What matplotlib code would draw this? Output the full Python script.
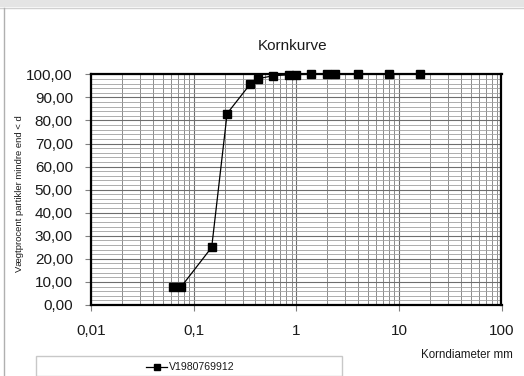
import matplotlib
matplotlib.use("Agg")
import matplotlib.pyplot as plt
from matplotlib.ticker import FixedLocator, MultipleLocator, FuncFormatter, LogLocator, NullFormatter
from matplotlib.patches import Rectangle
from matplotlib.lines import Line2D

plt.rcParams['font.family'] = ['Liberation Sans', 'DejaVu Sans']

# Sieve analysis: grain diameter (mm) and cumulative passing (%)
diameter_mm = [0.063, 0.075, 0.15, 0.212, 0.355, 0.425, 0.6, 0.85, 1.0, 1.4, 2.0, 2.36, 4.0, 8.0, 16.0]
passing_pct = [7.7, 7.7, 25.0, 83.0, 95.7, 98.1, 99.4, 99.8, 99.9, 100.0, 100.0, 100.0, 100.0, 100.0, 100.0]
series_name = "V1980769912"
x_ticks = [0.01, 0.1, 1, 10, 100]
x_tick_labels = ["0,01", "0,1", "1", "10", "100"]
title = "Kornkurve"
x_label = "Korndiameter mm"
y_label = "Vægtprocent partikler mindre end < d"

W, H = 524, 376
fig = plt.figure(figsize=(W / 100, H / 100), dpi=100)
fig.patch.set_facecolor("white")

# chart frame: grey strip on top and thin left border
fig.patches.append(Rectangle((0, 1 - 7 / H), 1, 7 / H, transform=fig.transFigure,
                             facecolor="#e4e4e4", edgecolor="none"))
fig.lines.append(Line2D([0, 1], [1 - 8 / H, 1 - 8 / H], transform=fig.transFigure,
                        color="#d0d0d0", lw=1))
fig.lines.append(Line2D([3.5 / W, 3.5 / W], [0, 1 - 8 / H], transform=fig.transFigure,
                        color="#b0b0b0", lw=1))

left, right, top, bottom = 91, 501.5, 74.3, 305
ax = fig.add_axes([left / W, 1 - bottom / H, (right - left) / W, (bottom - top) / H])

ax.set_xscale("log")
ax.set_xlim(0.01, 100)
ax.set_ylim(0, 100)

ax.xaxis.set_major_locator(FixedLocator(x_ticks))
ax.xaxis.set_major_formatter(FuncFormatter(lambda v, p: x_tick_labels[x_ticks.index(v)] if v in x_ticks else ""))
ax.xaxis.set_minor_locator(LogLocator(base=10, subs=range(2, 10), numticks=20))
ax.xaxis.set_minor_formatter(NullFormatter())

ax.yaxis.set_major_locator(MultipleLocator(10))
ax.yaxis.set_minor_locator(MultipleLocator(2))
ax.yaxis.set_major_formatter(FuncFormatter(lambda v, p: f"{v:.2f}".replace(".", ",")))

ax.grid(which="major", axis="both", color="#6e6e6e", lw=0.8)
ax.grid(which="minor", axis="x", color="#8c8c8c", lw=0.7)
ax.grid(which="minor", axis="y", color="#a0a0a0", lw=0.6)
ax.set_axisbelow(True)

ax.tick_params(axis="both", which="major", labelsize=11, length=4, width=0.8, color="#808080")
ax.tick_params(axis="y", which="major", pad=9)
ax.tick_params(axis="x", which="major", pad=10, length=4)
ax.tick_params(axis="both", which="minor", length=0)
for lab in ax.get_xticklabels() + ax.get_yticklabels():
    lab.set_color("#1a1a1a")

for s in ax.spines.values():
    s.set_linewidth(1.6)
    s.set_color("black")

ax.plot(diameter_mm, passing_pct, color="black", lw=0.9, marker="s", markersize=5.2,
        markerfacecolor="black", markeredgecolor="black", clip_on=False, zorder=5)

fig.text(293 / W, 1 - 46 / H, title, ha="center", va="center", fontsize=11, color="#1a1a1a")
fig.text(513 / W, 1 - 355 / H, x_label, ha="right", va="center", fontsize=8.3, color="#1a1a1a")
fig.text(20 / W, 1 - 194 / H, y_label, ha="center", va="center", rotation=90, fontsize=6.8,
         color="#1a1a1a")

# legend box
lx0, lx1, ly0 = 36, 342, 355.5
fig.patches.append(Rectangle((lx0 / W, 0), (lx1 - lx0) / W, 1 - ly0 / H, transform=fig.transFigure,
                             facecolor="white", edgecolor="#c8c8c8", lw=1))
fig.lines.append(Line2D([146 / W, 167 / W], [1 - 367 / H, 1 - 367 / H], transform=fig.transFigure,
                        color="black", lw=0.9, marker=None))
fig.lines.append(Line2D([156.5 / W], [1 - 367 / H], transform=fig.transFigure,
                        color="black", marker="s", markersize=5, lw=0))
fig.text(169 / W, 1 - 367 / H, series_name, ha="left", va="center", fontsize=7.6, color="#1a1a1a")

fig.savefig("out.png", dpi=100)
